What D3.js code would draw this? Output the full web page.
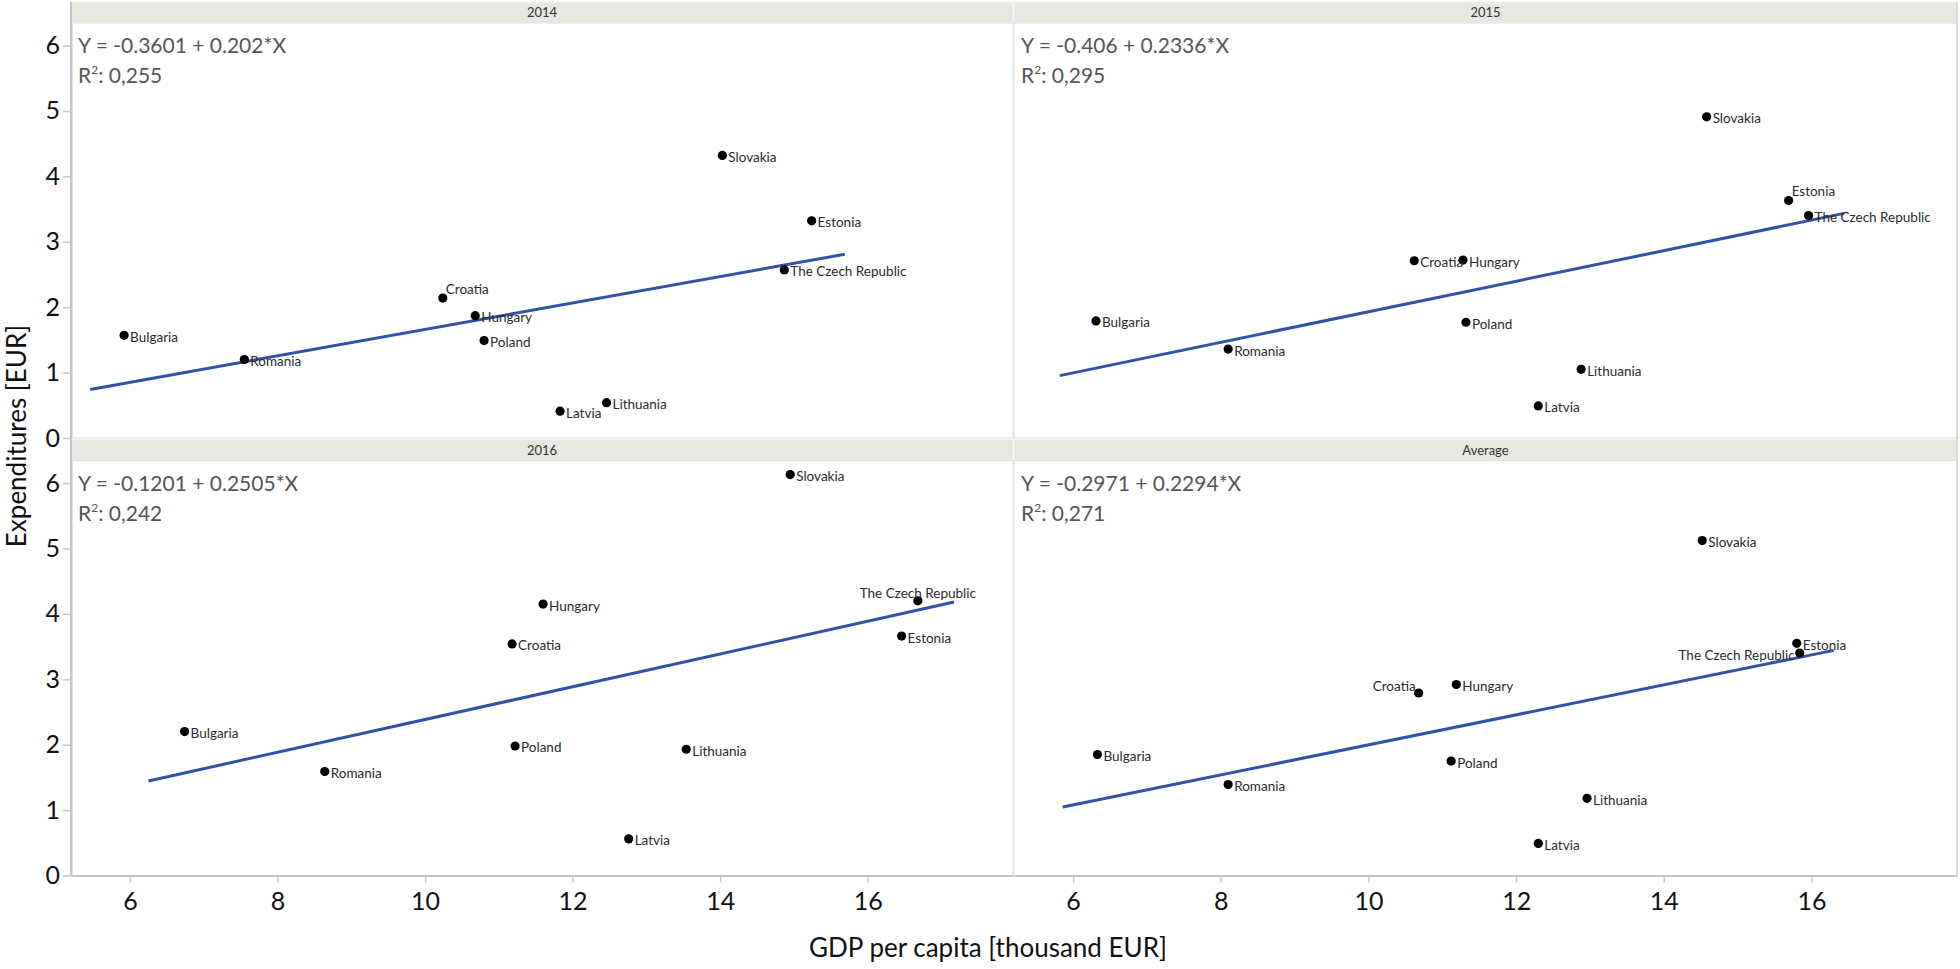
<!DOCTYPE html>
<html>
<head>
<meta charset="utf-8">
<script src="https://cdn.jsdelivr.net/npm/d3@7/dist/d3.min.js"></script>
<style>
  html, body { margin: 0; padding: 0; background: #fff; }
  svg { display: block; font-family: Lato, 'Open Sans', sans-serif; }
  .axis path, .axis line { stroke: #c6c6c6; }
  .axis path { stroke-width: 2; }
  .axis line { stroke-width: 1.5; }
  .axis text { fill: #111; font-size: 25px; font-family: Lato, 'Open Sans', sans-serif; }
  .pt-label { font-size: 13.5px; fill: #2b2b2b; }
  .eq { font-size: 21px; fill: #555; }
  .strip-text { font-size: 13px; fill: #333; }
  .axis-title { font-size: 26px; fill: #111; }
</style>
</head>
<body>
<svg id="chart"></svg>
<script>
const countries = ['Bulgaria', 'Romania', 'Croatia', 'Hungary', 'Poland', 'Latvia', 'Lithuania', 'Slovakia', 'Estonia', 'The Czech Republic']
const panelNames = ['2014', '2015', '2016', 'Average']

// GDP per capita [thousand EUR] / expenditures [EUR], same order as countries
const gdp2014 = [5.92, 7.55, 10.24, 10.68, 10.80, 11.83, 12.46, 14.03, 15.24, 14.87]
const exp2014 = [1.57, 1.20, 2.14, 1.87, 1.49, 0.41, 0.54, 4.32, 3.32, 2.57]
const gdp2015 = [6.31, 8.10, 10.62, 11.28, 11.32, 12.30, 12.88, 14.58, 15.69, 15.96]
const exp2015 = [1.79, 1.36, 2.71, 2.72, 1.77, 0.49, 1.05, 4.91, 3.63, 3.40]
const gdp2016 = [6.74, 8.64, 11.18, 11.60, 11.22, 12.76, 13.54, 14.95, 16.46, 16.68]
const exp2016 = [2.20, 1.59, 3.54, 4.15, 1.98, 0.56, 1.93, 6.13, 3.66, 4.20]
const gdpAvg = [6.33, 8.10, 10.68, 11.19, 11.12, 12.30, 12.96, 14.52, 15.80, 15.84]
const expAvg = [1.85, 1.39, 2.79, 2.92, 1.75, 0.49, 1.18, 5.12, 3.55, 3.40]

// fitted lines: Y = intercept + slope*X, drawn between lineFrom and lineTo
const intercepts = [-0.3601, -0.406, -0.1201, -0.2971]
const slopes = [0.202, 0.2336, 0.2505, 0.2294]
const r2Labels = ['0,255', '0,295', '0,242', '0,271']
const lineFrom = [5.46, 5.82, 6.25, 5.86]
const lineTo = [15.69, 16.44, 17.17, 16.30]

const xTicks = [6, 8, 10, 12, 14, 16]
const yTicks = [0, 1, 2, 3, 4, 5, 6]

const gdpByPanel = [gdp2014, gdp2015, gdp2016, gdpAvg]
const expByPanel = [exp2014, exp2015, exp2016, expAvg]

// where a point label sits relative to its dot (default: right)
const labelPlacement = {
  '2014|Croatia': 'aboveRight',
  '2015|Estonia': 'aboveRight',
  '2016|The Czech Republic': 'above',
  'Average|Croatia': 'aboveLeft',
  'Average|The Czech Republic': 'left',
}
const placements = {
  right: { dx: 6, dy: 6.5, anchor: 'start' },
  aboveRight: { dx: 3, dy: -4.5, anchor: 'start' },
  above: { dx: 0, dy: -3, anchor: 'middle' },
  aboveLeft: { dx: -3, dy: -2.5, anchor: 'end' },
  left: { dx: -5, dy: 7, anchor: 'end' },
}

const width = 1960
const height = 969
const cols = [{ x0: 71, x1: 1013 }, { x0: 1014, x1: 1957 }]
const rowTops = [2, 439.5]
const stripH = 21
const panelH = 415

const svg = d3.select('#chart').attr('width', width).attr('height', height)

const yMax = 6.345
const xDomain = [5.2, 17.97]

function drawPanel(i) {
  const col = cols[i % 2]
  const rowTop = rowTops[Math.floor(i / 2)]
  const top = rowTop + stripH
  const bottom = top + panelH
  const name = panelNames[i]

  const x = d3.scaleLinear().domain(xDomain).range([col.x0, col.x1])
  const y = d3.scaleLinear().domain([0, yMax]).range([bottom, top])

  const g = svg.append('g')

  // strip header
  g.append('rect')
    .attr('x', col.x0).attr('y', rowTop)
    .attr('width', col.x1 - col.x0).attr('height', stripH)
    .attr('fill', '#e8e7e0')
    .attr('stroke', '#f4f4f0').attr('stroke-width', 1)
  g.append('text').attr('class', 'strip-text')
    .attr('x', (col.x0 + col.x1) / 2).attr('y', rowTop + 15)
    .attr('text-anchor', 'middle')
    .text(name)

  // panel frame
  g.append('rect')
    .attr('x', col.x0).attr('y', top)
    .attr('width', col.x1 - col.x0).attr('height', panelH)
    .attr('fill', '#fff')
    .attr('stroke', '#dedede').attr('stroke-width', 1)

  // regression text
  const eq = `Y = ${intercepts[i]} + ${slopes[i]}*X`
  g.append('text').attr('class', 'eq')
    .attr('x', col.x0 + 7).attr('y', top + 30)
    .text(eq)
  const r2 = g.append('text').attr('class', 'eq')
    .attr('x', col.x0 + 7).attr('y', top + 60)
  r2.append('tspan').text('R')
  r2.append('tspan').attr('dy', -9).attr('font-size', 12).text('2')
  r2.append('tspan').attr('dy', 9).text(`: ${r2Labels[i]}`)

  // fit line
  const line = d3.line().x((d) => x(d)).y((d) => y(intercepts[i] + slopes[i] * d))
  g.append('path')
    .attr('d', line([lineFrom[i], lineTo[i]]))
    .attr('fill', 'none')
    .attr('stroke', '#3252a8')
    .attr('stroke-width', 3)

  const pts = countries.map((c, k) => ({ country: c, gdp: gdpByPanel[i][k], exp: expByPanel[i][k] }))

  g.selectAll('circle.pt').data(pts).join('circle')
    .attr('class', 'pt')
    .attr('cx', (d) => x(d.gdp))
    .attr('cy', (d) => y(d.exp))
    .attr('r', 4.6)
    .attr('fill', '#000')

  g.selectAll('text.pt-label').data(pts).join('text')
    .attr('class', 'pt-label')
    .each(function (d) {
      const p = placements[labelPlacement[`${name}|${d.country}`] || 'right']
      d3.select(this)
        .attr('x', x(d.gdp) + p.dx)
        .attr('y', y(d.exp) + p.dy)
        .attr('text-anchor', p.anchor)
    })
    .text((d) => d.country)

  // y axis on left column
  if (i % 2 === 0) {
    svg.append('g').attr('class', 'axis')
      .attr('transform', `translate(${col.x0},0)`)
      .call(d3.axisLeft(y).tickValues(yTicks).tickSize(8).tickSizeOuter(0).tickPadding(3).tickFormat(d3.format('d')))
  }
  // x axis on bottom row
  if (i >= 2) {
    svg.append('g').attr('class', 'axis')
      .attr('transform', `translate(0,${bottom})`)
      .call(d3.axisBottom(x).tickValues(xTicks).tickSize(7).tickSizeOuter(0).tickPadding(10).tickFormat(d3.format('d')))
  }
}

panelNames.forEach((_, i) => drawPanel(i))

// outer frame lines across both strips
svg.append('line')
  .attr('x1', cols[0].x0).attr('x2', cols[0].x0)
  .attr('y1', rowTops[0]).attr('y2', rowTops[1] + stripH + panelH)
  .attr('stroke', '#c6c6c6').attr('stroke-width', 2)
svg.append('line')
  .attr('x1', cols[1].x1).attr('x2', cols[1].x1)
  .attr('y1', rowTops[0]).attr('y2', rowTops[1] + stripH + panelH)
  .attr('stroke', '#d2d2d2').attr('stroke-width', 1.5)

svg.append('text').attr('class', 'axis-title')
  .attr('text-anchor', 'middle')
  .attr('x', 988).attr('y', 957)
  .text('GDP per capita [thousand EUR]')

svg.append('text').attr('class', 'axis-title')
  .attr('text-anchor', 'middle')
  .attr('transform', 'translate(26,436) rotate(-90)')
  .text('Expenditures [EUR]')
</script>
</body>
</html>
